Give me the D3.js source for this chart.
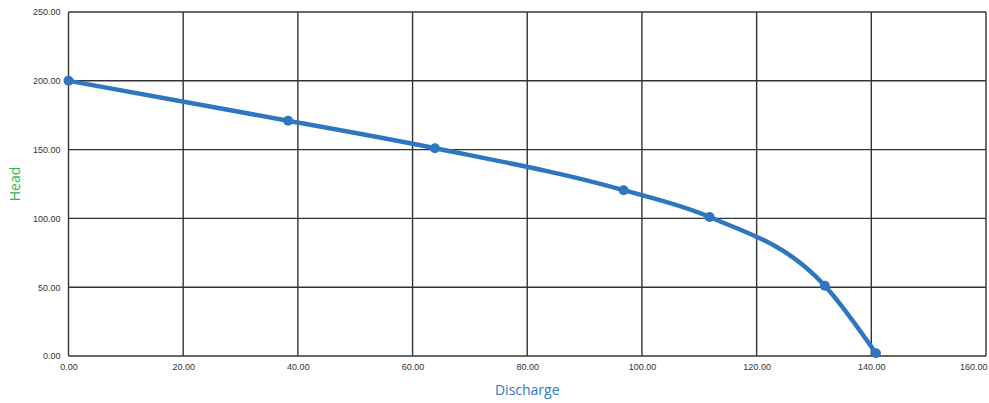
<!DOCTYPE html>
<html>
<head>
<meta charset="utf-8">
<script src="https://cdn.jsdelivr.net/npm/d3@7"></script>
<style>
body { margin: 0; background: #fff; }
svg { font-family: "Open Sans", sans-serif; }
.tick text { fill: #333; font-size: 9px; }
</style>
</head>
<body>
<div id="chart"></div>
<script>
// donnees
var discharge = [0, 38.3, 63.9, 96.8, 111.8, 131.9, 140.8];
var head = [200, 171, 151, 120.5, 101, 51, 2];
var xTicks = [0, 20, 40, 60, 80, 100, 120, 140, 160];
var yTicks = [0, 50, 100, 150, 200, 250];

var width = 989, height = 403;
var margin = {top: 12, right: 3, bottom: 47, left: 68.5};
var w = width - margin.left - margin.right,
    h = height - margin.top - margin.bottom;

var svg = d3.select("#chart").append("svg")
    .attr("width", width)
    .attr("height", height);

var g = svg.append("g")
    .attr("transform", "translate(" + margin.left + "," + margin.top + ")");

var x = d3.scaleLinear().domain([0, 160]).range([0, w]);
var y = d3.scaleLinear().domain([0, 250]).range([h, 0]);

// grille
g.append("g").selectAll("line")
    .data(xTicks)
    .enter().append("line")
    .attr("x1", function(d) { return x(d); })
    .attr("x2", function(d) { return x(d); })
    .attr("y1", 0).attr("y2", h)
    .attr("stroke", "#333").attr("stroke-width", 1.4);

g.append("g").selectAll("line")
    .data(yTicks)
    .enter().append("line")
    .attr("y1", function(d) { return y(d); })
    .attr("y2", function(d) { return y(d); })
    .attr("x1", 0).attr("x2", w)
    .attr("stroke", "#333").attr("stroke-width", 1.4);

// axes (labels seulement)
var fmt = d3.format(".2f");
g.append("g")
    .attr("transform", "translate(0," + h + ")")
    .call(d3.axisBottom(x).tickValues(xTicks).tickFormat(fmt).tickSize(0).tickPadding(8))
    .call(function(a) { a.select(".domain").remove(); })
    .selectAll(".tick text")
    .attr("text-anchor", function(d) { return d == 160 ? "end" : "middle"; })
    .attr("dx", function(d) { return d == 160 ? 1 : 0; });

g.append("g")
    .call(d3.axisLeft(y).tickValues(yTicks).tickFormat(fmt).tickSize(0).tickPadding(8))
    .call(function(a) { a.select(".domain").remove(); });

// courbe
var pts = discharge.map(function(d, i) { return [d, head[i]]; });
var line = d3.line()
    .x(function(d) { return x(d[0]); })
    .y(function(d) { return y(d[1]); })
    .curve(d3.curveMonotoneX);

g.append("path")
    .datum(pts)
    .attr("d", line)
    .attr("fill", "none")
    .attr("stroke", "#2e77c0")
    .attr("stroke-width", 4.5)
    .attr("stroke-linejoin", "round");

g.selectAll(".pt")
    .data(pts)
    .enter().append("circle")
    .attr("class", "pt")
    .attr("cx", function(d) { return x(d[0]); })
    .attr("cy", function(d) { return y(d[1]); })
    .attr("r", 5)
    .attr("fill", "#2e77c0");

// titres
svg.append("text")
    .attr("x", margin.left + w / 2)
    .attr("y", 395)
    .attr("text-anchor", "middle")
    .attr("fill", "#2e77c0")
    .style("font-size", "14px")
    .text("Discharge");

svg.append("text")
    .attr("transform", "translate(20," + (margin.top + h / 2) + ") rotate(-90)")
    .attr("text-anchor", "middle")
    .attr("fill", "#2dbb4e")
    .style("font-size", "14px")
    .text("Head");
</script>
</body>
</html>
